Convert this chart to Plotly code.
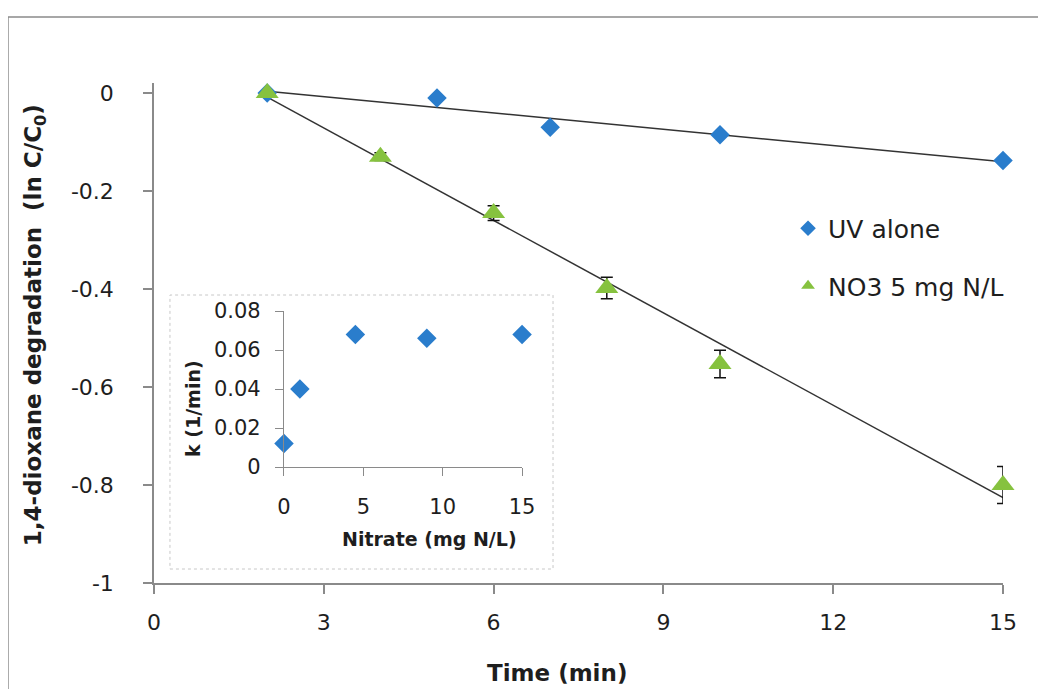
import numpy as np
import plotly.graph_objects as go

# ---- main chart data ----
uv_time = [2, 5, 7, 10, 15]
uv_lnc = [0.0, -0.01, -0.07, -0.085, -0.138]

no3_time = [2, 4, 6, 8, 10, 15]
no3_lnc = [0.0, -0.13, -0.245, -0.398, -0.553, -0.80]
no3_err = [0.0, 0.008, 0.015, 0.022, 0.028, 0.038]

x_tick_vals = [0, 3, 6, 9, 12, 15]
x_tick_text = ["0", "3", "6", "9", "12", "15"]
y_tick_vals = [-1, -0.8, -0.6, -0.4, -0.2, 0]
y_tick_text = ["-1", "-0.8", "-0.6", "-0.4", "-0.2", "0"]

# ---- inset data ----
nitrate = [0, 1, 4.5, 9, 15]
k_rate = [0.012, 0.040, 0.068, 0.066, 0.068]
in_x_tick_vals = [0, 5, 10, 15]
in_x_tick_text = ["0", "5", "10", "15"]
in_y_tick_vals = [0, 0.02, 0.04, 0.06, 0.08]
in_y_tick_text = ["0", "0.02", "0.04", "0.06", "0.08"]

BLUE = "#2a7dcc"
GREEN = "#86c23f"
AXIS = "#8a8a8a"
TXT = "#1e1e1e"
FONT = "'DejaVu Sans', sans-serif"


def trend(x, y):
    s, b = np.polyfit(x, y, 1)
    xs = np.array([min(x), max(x)], dtype=float)
    return xs, s * xs + b


fig = go.Figure()

tx, ty = trend(uv_time, uv_lnc)
fig.add_trace(go.Scatter(x=tx, y=ty, mode="lines", line=dict(color="#333333", width=1.5),
                         showlegend=False, hoverinfo="skip", cliponaxis=False))
tx, ty = trend(no3_time, no3_lnc)
fig.add_trace(go.Scatter(x=tx, y=ty, mode="lines", line=dict(color="#333333", width=1.5),
                         showlegend=False, hoverinfo="skip", cliponaxis=False))

fig.add_trace(go.Scatter(x=uv_time, y=uv_lnc, mode="markers", name="UV alone",
                         legendgroup="a", cliponaxis=False,
                         marker=dict(symbol="diamond", size=15, color=BLUE)))
fig.add_trace(go.Scatter(x=no3_time, y=no3_lnc, mode="markers", name="NO3 5 mg N/L",
                         legendgroup="b", cliponaxis=False,
                         marker=dict(symbol="triangle-up", size=20, color=GREEN),
                         error_y=dict(type="data", array=no3_err, visible=True,
                                      color="#111111", thickness=1.5, width=6)))

# inset
fig.add_trace(go.Scatter(x=nitrate, y=k_rate, mode="markers", xaxis="x2", yaxis="y2",
                         showlegend=False, cliponaxis=False,
                         marker=dict(symbol="diamond", size=15, color=BLUE)))

fig.update_layout(
    width=1046, height=689,
    margin=dict(l=146, r=51, t=75, b=114),
    paper_bgcolor="white", plot_bgcolor="rgba(0,0,0,0)",
    font=dict(family=FONT, color=TXT),
    xaxis=dict(range=[0, 15], tickvals=x_tick_vals, ticktext=x_tick_text,
               showgrid=False, zeroline=False, showline=True, linecolor=AXIS, linewidth=1.5,
               ticks="outside", ticklen=9, tickcolor=AXIS, tickwidth=1.5,
               ticklabelstandoff=10, tickfont=dict(size=22, color=TXT)),
    yaxis=dict(range=[-1, 0.0204], tickvals=y_tick_vals, ticktext=y_tick_text,
               showgrid=False, zeroline=False, showline=True, linecolor=AXIS, linewidth=1.5,
               ticks="outside", ticklen=9, tickcolor=AXIS, tickwidth=1.5,
               ticklabelstandoff=25, tickfont=dict(size=22, color=TXT)),
    xaxis2=dict(domain=[0.1531, 0.4335], anchor="y2", range=[0, 15],
                tickvals=in_x_tick_vals, ticktext=in_x_tick_text,
                showgrid=False, zeroline=False, showline=True, linecolor=AXIS, linewidth=1.2,
                ticks="outside", ticklen=8, tickcolor=AXIS,
                ticklabelstandoff=13, tickfont=dict(size=21, color=TXT)),
    yaxis2=dict(domain=[0.232, 0.544], anchor="x2", range=[0, 0.08],
                tickvals=in_y_tick_vals, ticktext=in_y_tick_text,
                showgrid=False, zeroline=False, showline=True, linecolor=AXIS, linewidth=1.2,
                ticks="outside", ticklen=8, tickcolor=AXIS,
                ticklabelstandoff=10, tickfont=dict(size=21, color=TXT)),
    legend=dict(x=0.7468, y=0.755, xanchor="left", yanchor="top", bgcolor="rgba(0,0,0,0)",
                font=dict(size=25, color=TXT), tracegroupgap=22, itemsizing="constant"),
    showlegend=True,
)

fig.update_layout(shapes=[
    # inset frame
    dict(type="rect", xref="paper", yref="paper", x0=0.0188, x1=0.470, y0=0.028, y1=0.576,
         line=dict(color="#c8c8c8", width=1, dash="dot"), fillcolor="white", layer="below"),
    # outer frame (top and left edges)
    dict(type="line", xref="paper", yref="paper", x0=-0.172, x1=1.1, y0=1.132, y1=1.132,
         line=dict(color="#8a8a8a", width=1.5)),
    dict(type="line", xref="paper", yref="paper", x0=-0.172, x1=-0.172, y0=1.132, y1=-0.3,
         line=dict(color="#8a8a8a", width=1.5)),
])

fig.update_layout(annotations=[
    dict(text="<b>1,4-dioxane degradation&nbsp; (ln C/C<sub>0</sub>)</b>", xref="paper", yref="paper",
         x=-0.140, y=0.516, textangle=-90, showarrow=False, font=dict(size=23, color=TXT),
         xanchor="center", yanchor="middle"),
    dict(text="<b>Time (min)</b>", xref="paper", yref="paper", x=0.475, y=-0.18,
         showarrow=False, font=dict(size=23, color=TXT), xanchor="center", yanchor="middle"),
    dict(text="<b>k (1/min)</b>", xref="paper", yref="paper", x=0.0459, y=0.35,
         textangle=-90, showarrow=False, font=dict(size=19, color=TXT),
         xanchor="center", yanchor="middle"),
    dict(text="<b>Nitrate (mg N/L)</b>", xref="paper", yref="paper", x=0.325,
         y=0.088, showarrow=False, font=dict(size=19, color=TXT),
         xanchor="center", yanchor="middle"),
])

fig.write_html("out.html")
